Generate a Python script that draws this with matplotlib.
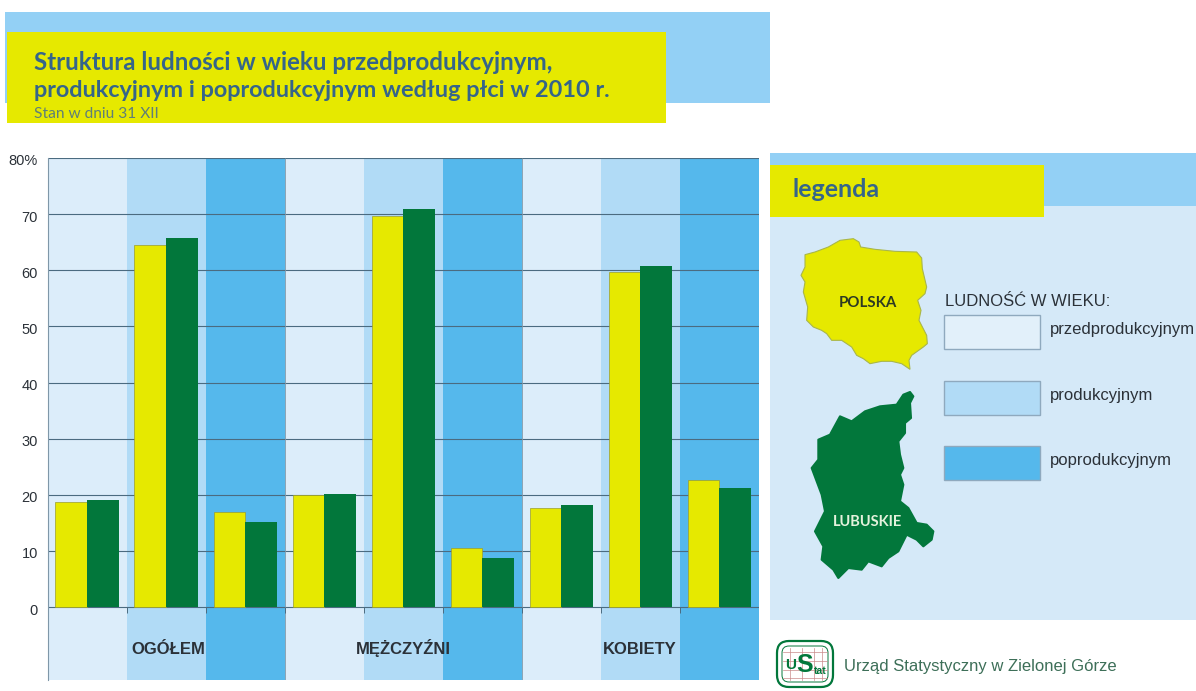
import matplotlib
matplotlib.use('Agg')
import matplotlib.pyplot as plt
import matplotlib.transforms as mtrans
from matplotlib.patches import Rectangle, Polygon, FancyBboxPatch

W, H = 1196, 691

# values
polska = [18.7, 64.5, 16.9, 19.9, 69.6, 10.5, 17.6, 59.7, 22.7]
lubuskie = [19.1, 65.8, 15.2, 20.2, 71.0, 8.8, 18.1, 60.8, 21.2]
groups = ['OGÓŁEM', 'MĘŻCZYŹNI', 'KOBIETY']
age_labels = ['przedprodukcyjnym', 'produkcyjnym', 'poprodukcyjnym']
y_ticks = [0, 10, 20, 30, 40, 50, 60, 70, 80]
y_labels = ['0', '10', '20', '30', '40', '50', '60', '70', '80%']

YELLOW = '#e6e900'
GREEN = '#02773b'
BANDS = ['#dcedfa', '#b1dbf6', '#55b8ec']
TITLE = '#35658a'
HEAD_BLUE = '#93d0f5'
PANEL = '#d5e9f8'
INK = '#2b3138'

poland_crop = [(30, 68), (60, 60), (100, 45), (135, 25), (175, 20), (192, 30), (197, 45), (240, 52),
               (300, 58), (365, 60), (380, 78), (382, 110), (395, 165), (390, 185), (368, 205),
               (378, 235), (372, 265), (395, 310), (397, 335), (385, 345), (350, 370), (342, 385),
               (345, 412), (320, 395), (290, 388), (260, 388), (225, 395), (205, 380), (185, 370),
               (170, 345), (140, 325), (110, 325), (95, 305), (80, 295), (55, 285), (35, 265),
               (38, 225), (25, 180), (30, 150), (18, 130), (30, 105)]
lubuskie_crop = [(295, 20), (315, 12), (325, 25), (315, 45), (318, 90), (300, 105), (300, 135),
                 (280, 160), (285, 200), (295, 240), (285, 260), (295, 290), (285, 340), (310, 360),
                 (335, 405), (365, 410), (385, 430), (380, 455), (355, 475), (335, 455), (305, 440),
                 (280, 490), (250, 510), (230, 535), (190, 520), (170, 545), (130, 540), (100, 570),
                 (85, 545), (50, 515), (55, 475), (30, 430), (45, 400), (60, 370), (50, 320),
                 (20, 240), (40, 215), (40, 155), (75, 140), (105, 85), (140, 100), (180, 70),
                 (225, 55), (275, 50)]


def crop_to_px(pts, x0, y0):
    return [(x0 + x / 3, y0 + y / 3) for x, y in pts]


fig = plt.figure(figsize=(W / 100, H / 100), dpi=100, facecolor='white')
plt.rcParams['font.family'] = ['Liberation Sans', 'DejaVu Sans']

# page layer, in pixels
bg = fig.add_axes([0, 0, 1, 1])
bg.set_xlim(0, W)
bg.set_ylim(H, 0)
bg.axis('off')


def box(x0, y0, x1, y1, color, **kw):
    bg.add_patch(Rectangle((x0, y0), x1 - x0, y1 - y0, facecolor=color, edgecolor=kw.pop('ec', 'none'), **kw))


box(5, 12, 770, 103, HEAD_BLUE)
box(7, 32, 666, 123, YELLOW)
bg.text(34, 62, 'Struktura ludności w wieku przedprodukcyjnym,', family='Lato', weight='bold',
        fontsize=17.35, color=TITLE, va='center')
bg.text(34, 90, 'produkcyjnym i poprodukcyjnym według płci w 2010 r.', family='Lato', weight='bold',
        fontsize=16.9, color=TITLE, va='center')
bg.text(34, 114, 'Stan w dniu 31 XII', family='Lato', fontsize=11.2, color='#5f7f78', va='center')

box(770, 153, W, 620, PANEL)
box(770, 153, W, 206, HEAD_BLUE)
box(770, 165, 1044, 217, YELLOW)
bg.text(793, 189, 'legenda', family='Lato', weight='bold', fontsize=18, color=TITLE, va='center')

bg.add_patch(Polygon(crop_to_px(poland_crop, 795, 232), closed=True, facecolor=YELLOW, edgecolor='#a9b64a', lw=0.8))
bg.add_patch(Polygon(crop_to_px(lubuskie_crop, 805, 388), closed=True, facecolor=GREEN, edgecolor=GREEN,
                     lw=1.5, joinstyle='round'))
bg.text(868, 303, 'POLSKA', family='Lato', weight='bold', fontsize=10.8, color='#2d3a22', ha='center', va='center')
bg.text(867, 522, 'LUBUSKIE', family='Lato', weight='bold', fontsize=10.5, color='#e4f2dc', ha='center', va='center')

bg.text(945, 301, 'LUDNOŚĆ W WIEKU:', fontsize=12, color=INK, va='center')
for i, (label, col) in enumerate(zip(age_labels, ['#e2f0fa', BANDS[1], BANDS[2]])):
    top = 315 + i * 65.7
    box(944, top, 1040, top + 34, col, ec='#8fa9be', lw=1)
    bg.text(1050, top + 14.5, label, fontsize=12, color=INK, va='center')

# logo
bg.add_patch(FancyBboxPatch((782, 646), 46, 36, boxstyle='round,pad=5,rounding_size=12',
                            facecolor='white', edgecolor=GREEN, lw=1.6))
bg.add_patch(FancyBboxPatch((784, 648), 42, 32, boxstyle='round,pad=2,rounding_size=7',
                            facecolor='white', edgecolor=GREEN, lw=0.7))
for gx in [790, 802, 814, 822]:
    bg.plot([gx, gx], [648, 680], color='#c98a8a', lw=0.5)
for gy in [652, 661, 670, 678]:
    bg.plot([783, 827], [gy, gy], color='#c98a8a', lw=0.5)
bg.text(790.5, 665, 'U', weight='bold', fontsize=11, color=GREEN, ha='center', va='center')
bg.text(805, 665, 'S', weight='bold', fontsize=18, color=GREEN, ha='center', va='center')
bg.text(820, 671, 'tat', weight='bold', fontsize=7.5, color=GREEN, ha='center', va='center')
bg.text(844, 667, 'Urząd Statystyczny w Zielonej Górze', fontsize=12, color='#3d6f58', va='center')

# chart
ax = fig.add_axes([47.5 / W, 1 - 680 / H, (759 - 47.5) / W, (680 - 158) / H])
ax.set_facecolor('none')
ax.set_xlim(0, 9)
ax.set_ylim(-13.0, 80)

for i in range(9):
    ax.axvspan(i, i + 1, color=BANDS[i % 3], lw=0, zorder=0)
ax.hlines(y_ticks, 0, 9, color='#4b6b80', lw=0.8, zorder=1)
ax.vlines([3, 6], -13, 80, color='#7f97a8', lw=0.6, zorder=1)
ax.vlines(range(10), -1, 0, color='#4b6b80', lw=0.7, zorder=1)

xs = [i + 0.5 for i in range(9)]
ax.bar([x - 0.2 for x in xs], polska, width=0.4, color=YELLOW, edgecolor='#9a9d2e', lw=0.5, zorder=2)
ax.bar([x + 0.2 for x in xs], lubuskie, width=0.4, color=GREEN, zorder=2)

for spine in ['top', 'right', 'bottom']:
    ax.spines[spine].set_visible(False)
ax.spines['left'].set_color('#7f97a8')
ax.spines['left'].set_linewidth(0.8)
ax.set_xticks([])
ax.set_yticks(y_ticks, y_labels)
ax.tick_params(axis='y', length=0, pad=7, labelsize=10.5, labelcolor=INK)
# the labels sit a little under their gridlines in the original
shift = mtrans.ScaledTranslation(0, -2 / 100, fig.dpi_scale_trans)
for lab in ax.get_yticklabels():
    lab.set_transform(lab.get_transform() + shift)

for g, gx in zip(groups, [1.53, 4.5, 7.49]):
    ax.text(gx, -8.4, g, fontsize=12, weight='bold', color=INK, ha='center', va='baseline')

fig.savefig('out.png', dpi=100)
